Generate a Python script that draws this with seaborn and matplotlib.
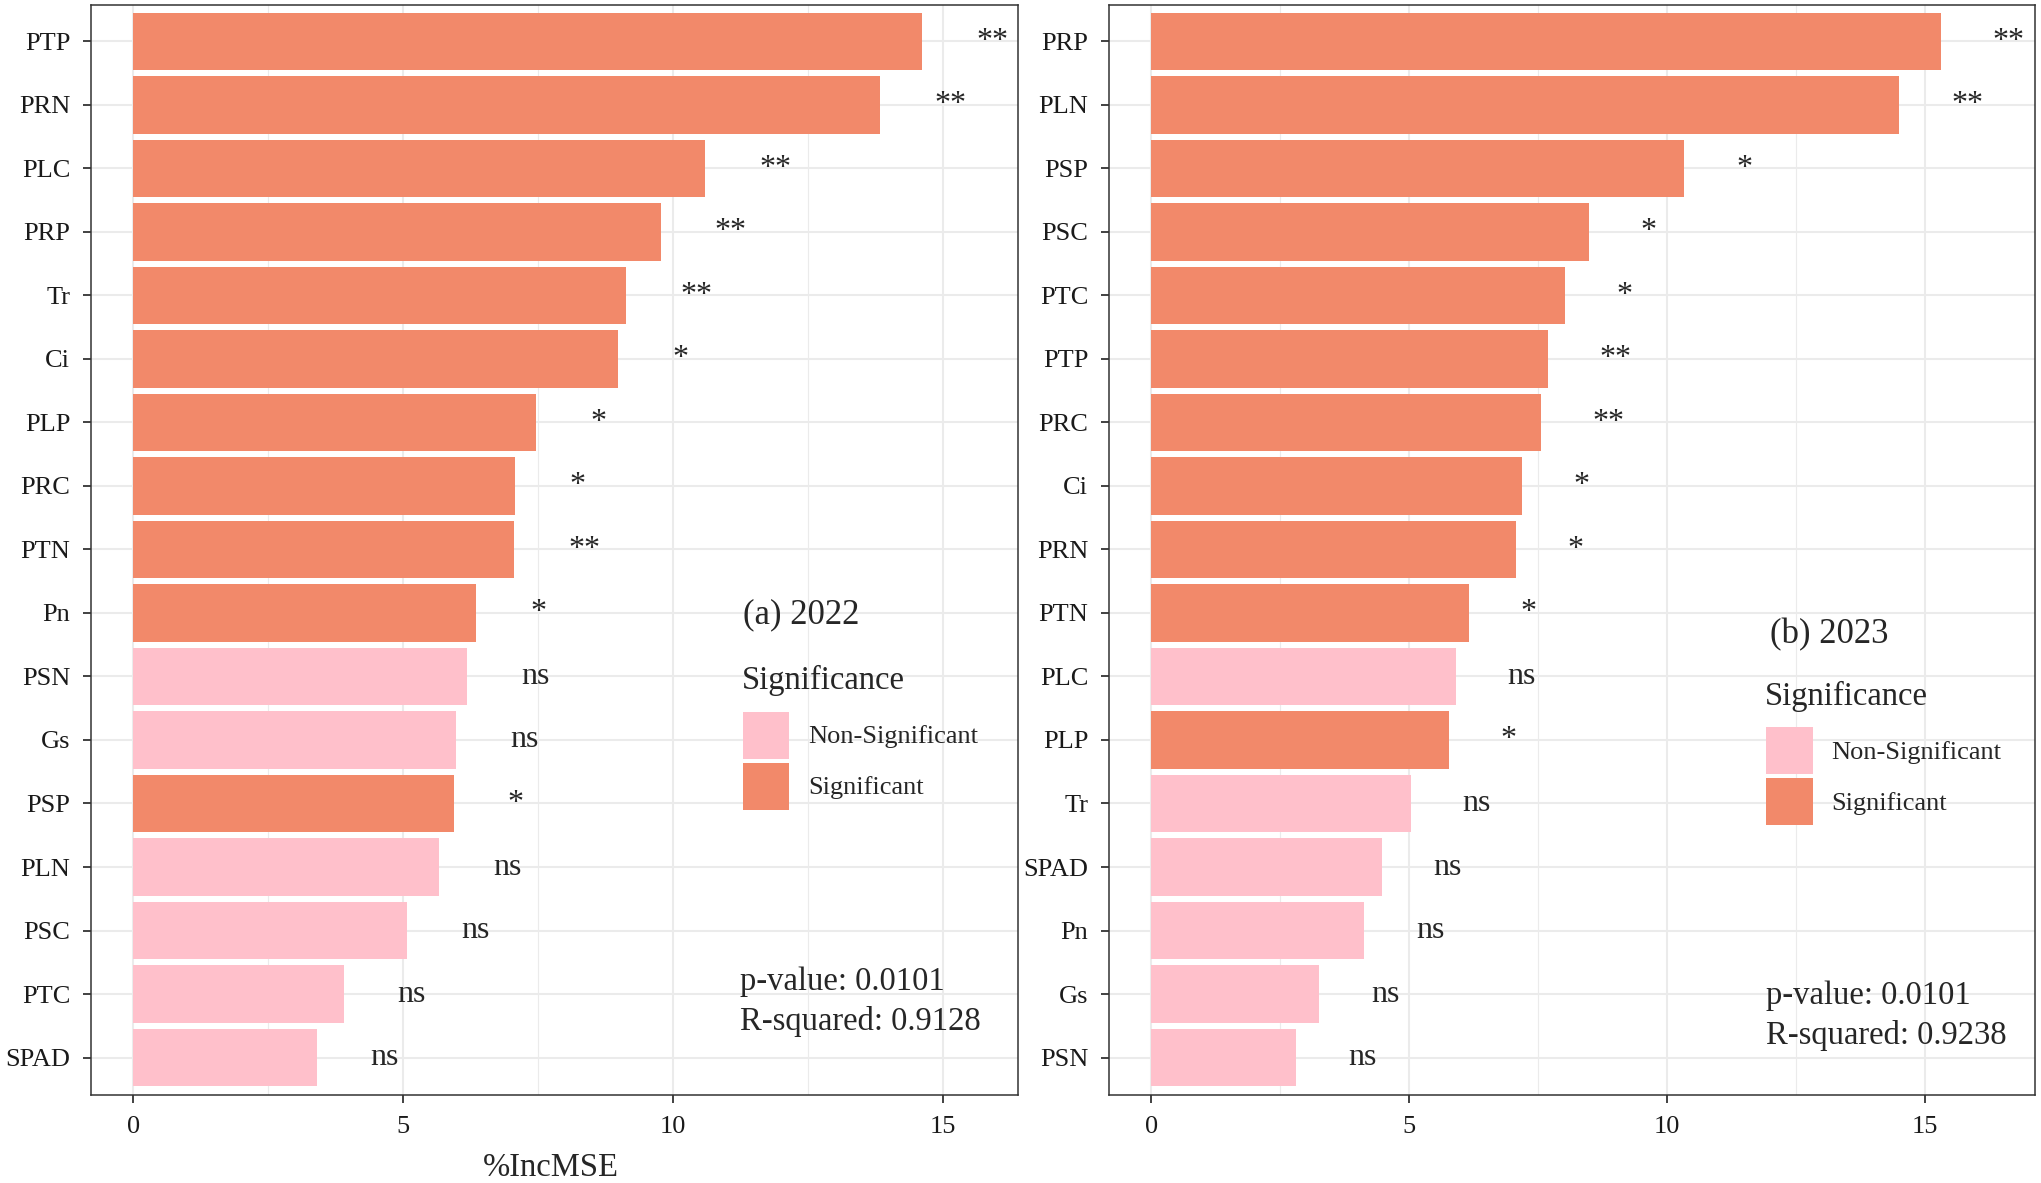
import matplotlib
matplotlib.use("Agg")
import matplotlib.pyplot as plt
import pandas as pd
import seaborn as sns
from matplotlib.patches import Patch
from matplotlib.ticker import MultipleLocator

# Data (importance scores, %IncMSE)
vars_2022 = ["PTP", "PRN", "PLC", "PRP", "Tr", "Ci", "PLP", "PRC", "PTN", "Pn",
             "PSN", "Gs", "PSP", "PLN", "PSC", "PTC", "SPAD"]
inc_2022 = [14.61, 13.84, 10.60, 9.77, 9.13, 8.98, 7.47, 7.08, 7.06, 6.35,
            6.18, 5.98, 5.94, 5.67, 5.08, 3.90, 3.40]
sig_2022 = ["**", "**", "**", "**", "**", "*", "*", "*", "**", "*",
            "ns", "ns", "*", "ns", "ns", "ns", "ns"]

vars_2023 = ["PRP", "PLN", "PSP", "PSC", "PTC", "PTP", "PRC", "Ci", "PRN", "PTN",
             "PLC", "PLP", "Tr", "SPAD", "Pn", "Gs", "PSN"]
inc_2023 = [15.32, 14.51, 10.34, 8.48, 8.03, 7.70, 7.56, 7.19, 7.07, 6.16,
            5.91, 5.77, 5.03, 4.47, 4.13, 3.26, 2.81]
sig_2023 = ["**", "**", "*", "*", "*", "**", "**", "*", "*", "*",
            "ns", "*", "ns", "ns", "ns", "ns", "ns"]

stats_2022 = ["p-value: 0.0101", "R-squared: 0.9128"]
stats_2023 = ["p-value: 0.0101", "R-squared: 0.9238"]

colors = {"Non-Significant": "#FFC0CB", "Significant": "#F2896A"}

sns.set_theme(style="white")
plt.rcParams['font.family'] = ['Liberation Serif', 'DejaVu Serif']

fig = plt.figure(figsize=(20.41, 11.83), dpi=100)
ax1 = fig.add_axes([0.0446, 0.0744, 0.4542, 0.9217])
ax2 = fig.add_axes([0.5434, 0.0744, 0.4537, 0.9217])


def draw_panel(ax, names, vals, sigs, xlim, title, title_xy, leg_title_xy,
               leg_anchor, stats, stats_xy):
    df = pd.DataFrame({"var": names, "value": vals, "stars": sigs})
    df["sig"] = ["Non-Significant" if s == "ns" else "Significant" for s in sigs]
    sns.barplot(data=df, x="value", y="var", hue="sig", order=names,
                palette=colors, dodge=False, width=0.9, saturation=1,
                linewidth=0, legend=False, ax=ax)
    # significance labels
    for i, row in df.iterrows():
        ax.text(row["value"] + 1.0, i, row["stars"], ha="left", va="center",
                fontsize=23)

    ax.set_xlim(*xlim)
    ax.set_ylim(16.59, -0.58)
    ax.set_xlabel("")
    ax.set_ylabel("")
    ax.xaxis.set_major_locator(MultipleLocator(5))
    ax.xaxis.set_minor_locator(MultipleLocator(2.5))
    ax.set_axisbelow(True)
    ax.grid(which="major", color="#EBEBEB", linewidth=1.5)
    ax.grid(which="minor", axis="x", color="#EBEBEB", linewidth=0.8)
    ax.tick_params(axis="both", which="major", length=6, width=1.3,
                   color="#333333", labelsize=19, labelcolor="#1a1a1a", pad=9,
                   bottom=True, left=True)
    ax.tick_params(which="minor", length=0)
    for sp in ax.spines.values():
        sp.set_color("#333333")
        sp.set_linewidth(1.1)

    ax.text(title_xy[0], title_xy[1], title, ha="left", va="center", fontsize=25)
    ax.text(leg_title_xy[0], leg_title_xy[1], "Significance", ha="left",
            va="center", fontsize=23.5)
    handles = [Patch(facecolor=colors[k], edgecolor="none", label=k) for k in colors]
    # big square keys like ggplot's legend.key.size
    ax.legend(handles=handles, loc="upper left", bbox_to_anchor=leg_anchor,
              frameon=False, borderpad=0, borderaxespad=0, fontsize=19,
              handlelength=1.76, handleheight=2.36, labelspacing=0.15,
              handletextpad=0.72)
    ax.text(stats_xy[0], stats_xy[1], stats[0], ha="left", va="center", fontsize=23.5)
    ax.text(stats_xy[0], stats_xy[1] + 0.63, stats[1], ha="left", va="center",
            fontsize=23.5)


draw_panel(ax1, vars_2022, inc_2022, sig_2022, (-0.78, 16.39), "(a) 2022",
           (11.3, 9.03), (11.28, 10.07), (0.7033, 0.3514), stats_2022, (11.24, 14.8))
draw_panel(ax2, vars_2023, inc_2023, sig_2023, (-0.82, 17.14), "(b) 2023",
           (12.0, 9.34), (11.89, 10.31), (0.7095, 0.3375), stats_2023, (11.93, 15.03))

fig.text(0.270, 0.0127, "%IncMSE", ha="center", va="center", fontsize=23.5)

fig.savefig("out.png", dpi=100)
